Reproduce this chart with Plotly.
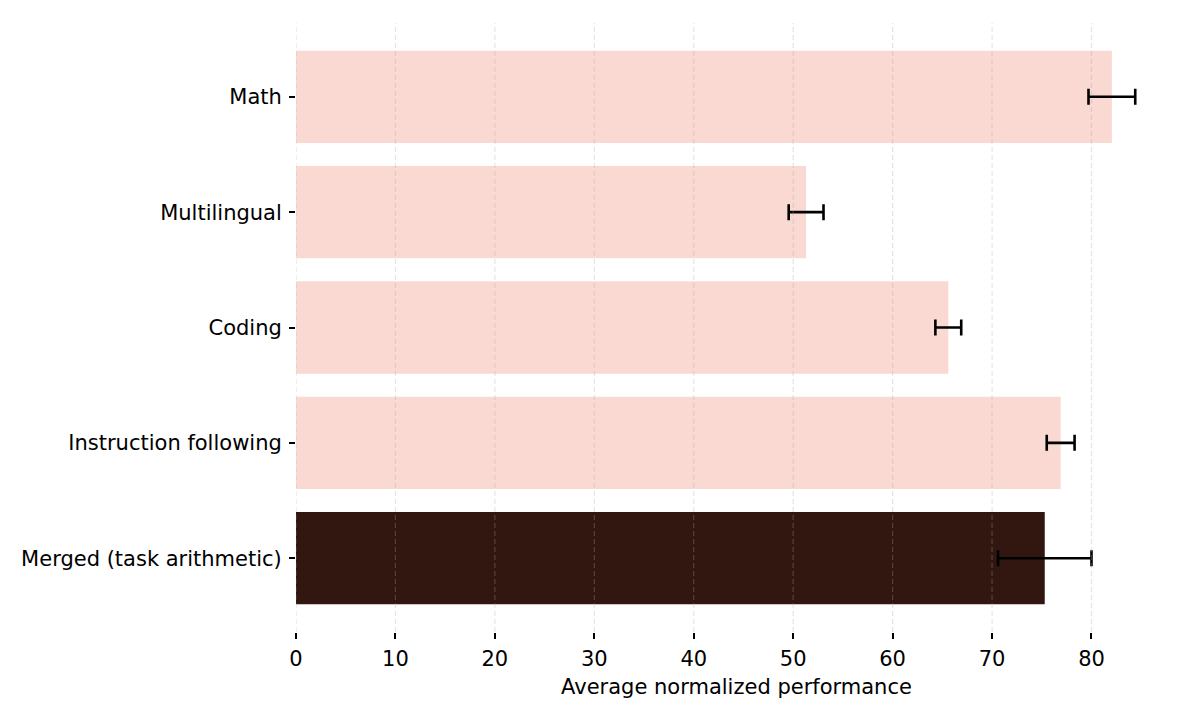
import plotly.graph_objects as go

# values
categories = ["Math", "Multilingual", "Coding", "Instruction following", "Merged (task arithmetic)"]
performance = [82.05, 51.3, 65.6, 76.9, 75.3]
error = [2.35, 1.75, 1.3, 1.4, 4.7]
bar_colors = ["#f9d9d2", "#f9d9d2", "#f9d9d2", "#f9d9d2", "#321610"]
x_ticks = [0, 10, 20, 30, 40, 50, 60, 70, 80]

font = "DejaVu Sans"
fsize = 21

fig = go.Figure()
fig.add_trace(go.Bar(
    x=performance,
    y=categories,
    orientation="h",
    width=0.8,
    marker=dict(color=bar_colors, line=dict(width=0)),
    error_x=dict(type="data", array=error, visible=True, color="black", thickness=2.6, width=8),
    showlegend=False,
))

# dashed grid drawn on top of the bars, like the original
for t in x_ticks:
    fig.add_shape(type="line", xref="x", yref="paper", x0=t, x1=t, y0=0, y1=1,
                  line=dict(color="rgba(170,170,170,0.3)", width=1.2, dash="5px,3px"),
                  layer="above")

# page body adds 8px offset, margins compensate for it
fig.update_layout(
    width=1200, height=720,
    margin=dict(l=288, r=31, t=15, b=96),
    plot_bgcolor="white", paper_bgcolor="white",
    font=dict(family=font, size=fsize, color="black"),
)
fig.update_xaxes(
    range=[0, 88.6], tickvals=x_ticks, showgrid=False, zeroline=False, showline=False,
    ticks="outside", ticklen=6, tickwidth=1.6, tickcolor="black", automargin=False,
    ticklabelstandoff=2,
    title=dict(text="Average normalized performance", standoff=9, font=dict(size=fsize)),
    tickfont=dict(size=fsize),
)
fig.update_yaxes(
    categoryorder="array", categoryarray=categories,
    range=[4.64, -0.64], showgrid=False, zeroline=False, showline=False,
    ticks="outside", ticklen=6, tickwidth=1.6, tickcolor="black", automargin=False,
    ticklabelstandoff=3,
    tickfont=dict(size=fsize),
)

fig.write_html("out.html")
